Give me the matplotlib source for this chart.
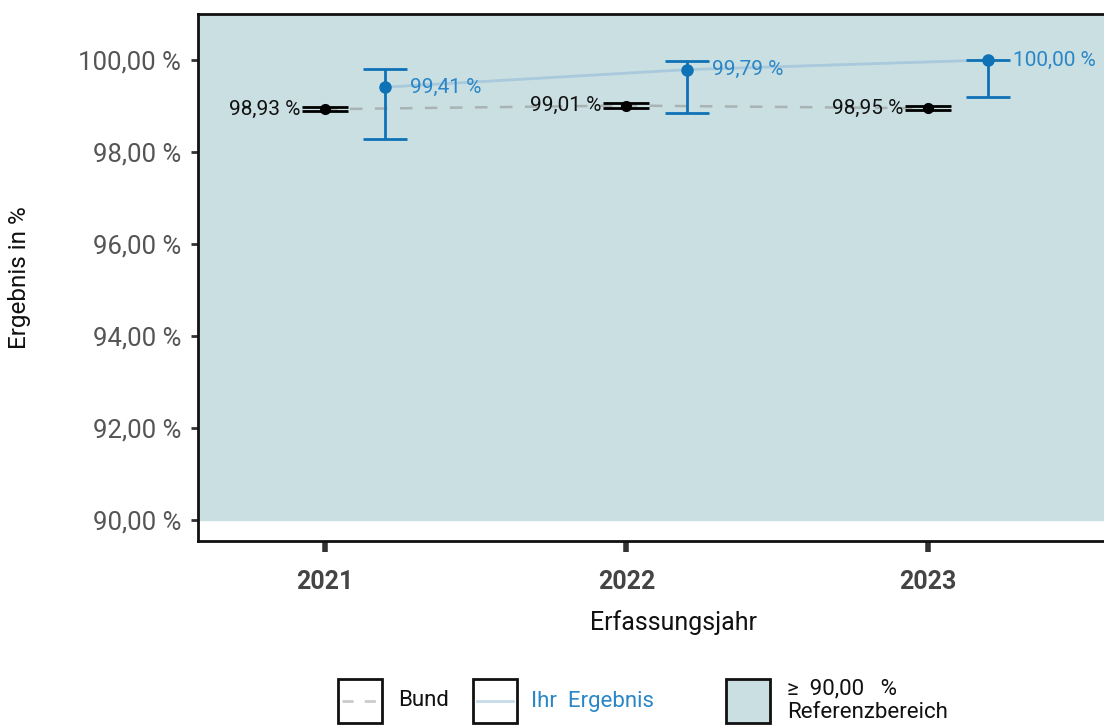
import numpy as np
import matplotlib.pyplot as plt
from matplotlib.patches import Rectangle
from matplotlib.lines import Line2D

plt.rcParams['font.family'] = ['Roboto', 'DejaVu Sans']

years = [2021, 2022, 2023]
bund = [98.93, 99.01, 98.95]
bund_lo = [98.89, 98.965, 98.91]
bund_hi = [98.97, 99.055, 98.99]
ihr = [99.41, 99.79, 100.00]
ihr_lo = [98.28, 98.85, 99.20]
ihr_hi = [99.80, 99.98, 100.00]
ref_value = 90.0
yticks = [90, 92, 94, 96, 98, 100]

def fmt(v):
    return f"{v:.2f}".replace('.', ',') + " %"

ref_col = '#cadfe2'
blue = '#0f72b6'
blue_txt = '#2a86c6'
light_blue = '#a9c9dc'
grey_dash = '#aab3b3'

fig = plt.figure(figsize=(11.04, 7.25), dpi=100)
ax = fig.add_axes([198 / 1104, 1 - 541 / 725, (1150 - 198) / 1104, (541 - 14) / 725])

x = np.array(years, dtype=float)
off = 0.2
ax.axhspan(ref_value, 102, color=ref_col, zorder=0)

ax.plot(x, bund, ls=(0, (5, 5)), color=grey_dash, lw=1.8, zorder=1)
ax.plot(x + off, ihr, color=light_blue, lw=2, zorder=1)

b = np.array(bund)
ax.errorbar(x, b, yerr=[b - bund_lo, np.array(bund_hi) - b], fmt='o', color='black',
            ms=7, capsize=16.5, capthick=2, elinewidth=2, zorder=3)
i = np.array(ihr)
ax.errorbar(x + off, i, yerr=[i - ihr_lo, np.array(ihr_hi) - i], fmt='o', color=blue,
            ms=8, capsize=16, capthick=2, elinewidth=2, zorder=3)

dx = 25 / 301.5
for xi, v in zip(x, bund):
    ax.text(xi - dx, v, fmt(v), ha='right', va='center', fontsize=15, color='#111111', zorder=4)
for xi, v in zip(x + off, ihr):
    ax.text(xi + dx, v, fmt(v), ha='left', va='center', fontsize=15, color=blue_txt, zorder=4)

ax.set_xlim(2020.579, 2020.579 + (1150 - 198) / 301.5)
ax.set_ylim(90 - 21 / 46, 101.0)
ax.set_yticks(yticks)
ax.set_yticklabels([fmt(v) for v in yticks], fontsize=18.5, color='#555555')
ax.set_xticks(years)
ax.set_xticklabels([str(y) for y in years], fontsize=18, fontweight='bold', color='#444444')
ax.tick_params(axis='x', length=8, width=4, color='#333333', pad=13)
ax.tick_params(axis='y', length=5, width=2, color='#333333', pad=7)
for s in ['left', 'bottom', 'top']:
    ax.spines[s].set_linewidth(2)
    ax.spines[s].set_color('#111111')
ax.spines['right'].set_visible(False)
ax.set_xlabel('Erfassungsjahr', fontsize=18, color='#111111')
ax.set_ylabel('Ergebnis in %', fontsize=17.5, color='#111111')
ax.yaxis.set_label_coords(-0.175, 0.5)
ax.xaxis.set_label_coords(0.5, -0.131)

# legend
def legend_box(x0, fill, kind):
    r = Rectangle((x0 / 1104, 1 - 723 / 725), 44 / 1104, 44 / 725, transform=fig.transFigure,
                  facecolor=fill, edgecolor='#111111', lw=2)
    fig.patches.append(r)
    yc = 1 - 701 / 725
    if kind == 'dash':
        fig.lines.append(Line2D([(x0 + 4) / 1104, (x0 + 40) / 1104], [yc, yc], transform=fig.transFigure,
                                color='#c8cccc', lw=2, ls=(0, (4, 4))))
    elif kind == 'line':
        fig.lines.append(Line2D([(x0 + 4) / 1104, (x0 + 40) / 1104], [yc, yc], transform=fig.transFigure,
                                color='#c5dbe8', lw=2))

legend_box(338, 'white', 'dash')
legend_box(473, 'white', 'line')
legend_box(726, ref_col, None)
yc = 1 - 701 / 725
fig.text(398 / 1104, yc, 'Bund', fontsize=16, va='center', color='#111111')
fig.text(531 / 1104, yc, 'Ihr  Ergebnis', fontsize=16, va='center', color=blue_txt)
fig.text(787 / 1104, 1 - 689 / 725, '≥  90,00   %', fontsize=16, va='center', color='#111111')
fig.text(787 / 1104, 1 - 712 / 725, 'Referenzbereich', fontsize=16, va='center', color='#111111')

fig.savefig('out.png', dpi=100)
